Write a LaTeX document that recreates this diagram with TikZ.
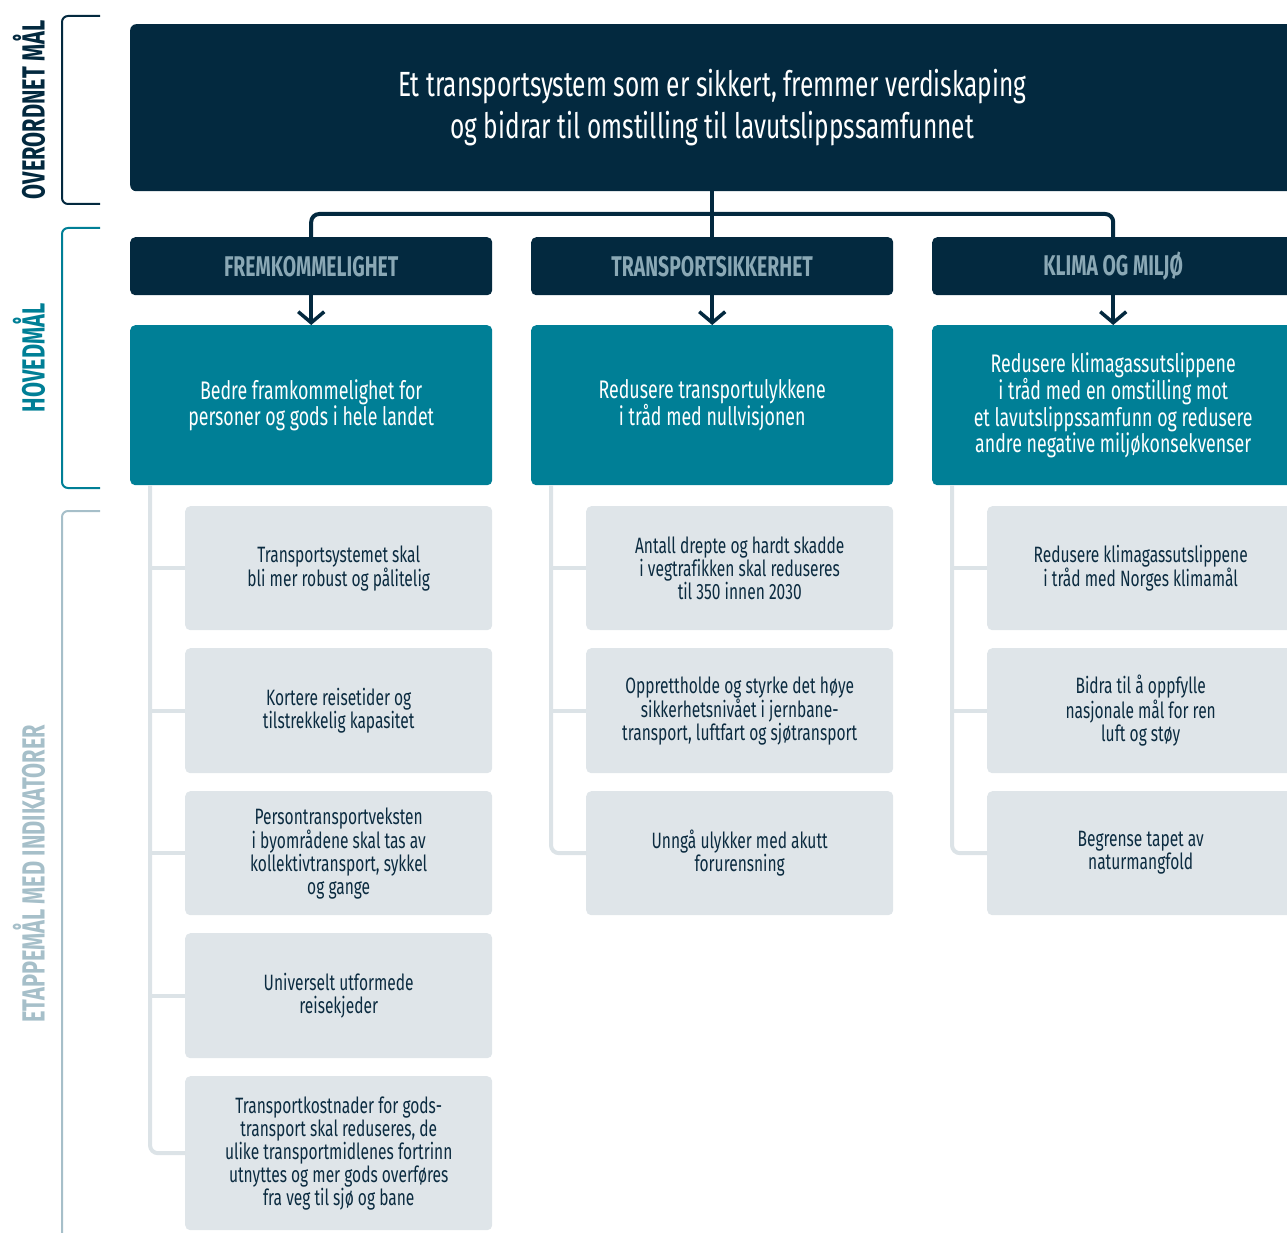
\documentclass[tikz,border=0pt]{standalone}
\usepackage{fontspec}
\setmainfont{Fira Sans}[FakeStretch=0.7,Ligatures=NoCommon]
\newfontfamily\boldf{Fira Sans Bold}[FakeStretch=0.68]
\usetikzlibrary{arrows.meta,calc}
\definecolor{navy}{HTML}{03293F}
\definecolor{teal}{HTML}{007F96}
\definecolor{hdrtxt}{HTML}{8AA8B5}
\definecolor{graybox}{HTML}{DFE5E9}
\definecolor{treeline}{HTML}{DCE3E7}
\definecolor{lightlab}{HTML}{A6BFC9}
\definecolor{darktxt}{HTML}{0B2B40}
\tikzset{
  topbox/.style={fill=navy, rounded corners=6pt, anchor=north west, inner sep=0pt,
     minimum width=1164pt, minimum height=167pt, text=white, align=center,
     font=\fontsize{35}{42}\selectfont},
  hdr/.style={fill=navy, rounded corners=5pt, anchor=north west, inner sep=0pt,
     minimum width=362pt, minimum height=58pt, text=hdrtxt,
     font=\boldf\fontsize{28.5}{30}\selectfont},
  tealbox/.style={fill=teal, rounded corners=5pt, anchor=north west, inner sep=0pt,
     minimum width=362pt, minimum height=160pt, text=white, align=center,
     font=\fontsize{25.4}{26.5}\selectfont},
  gbox/.style={fill=graybox, rounded corners=5pt, anchor=north west, inner sep=0pt,
     minimum width=307pt, minimum height=124pt, text=darktxt, align=center,
     font=\fontsize{22.2}{23}\selectfont},
  conn/.style={draw=navy, line width=4pt, rounded corners=8pt},
  arr/.style={draw=navy, line width=4pt, -{Straight Barb[length=11pt,width=26pt,line width=3.5pt]}},
  tree/.style={draw=treeline, line width=4pt, rounded corners=8pt},
  bracket/.style={line width=2pt, rounded corners=6pt},
  sidelab/.style={rotate=90, font=\boldf\fontsize{32}{34}\selectfont, inner sep=0pt},
}
\begin{document}
\begin{tikzpicture}[x=1pt,y=-1pt]
\useasboundingbox (0,0) rectangle (1287,1233);
\clip (0,0) rectangle (1287,1233);
% side labels and brackets
\node[sidelab, text=navy] (labA) at (29,110) {OVERORDNET MÅL};
\node[sidelab, text=teal] (labB) at (29,358) {HOVEDMÅL};
\node[sidelab, text=lightlab] (labC) at (29,874) {ETAPPEMÅL MED INDIKATORER};
\coordinate (bA1) at (100,16); \coordinate (bA2) at (100,204);
\coordinate (bB1) at (100,228); \coordinate (bB2) at (100,488);
\coordinate (bC1) at (100,511); \coordinate (bC2) at (62,1250);
\draw[bracket, navy] (bA1) -- (62,16) -- (62,204) -- (bA2);
\draw[bracket, teal] (bB1) -- (62,228) -- (62,488) -- (bB2);
\draw[bracket, lightlab] (bC1) -- (62,511) -- (bC2);
% top
\node[topbox] (top) at (130,24) {\raisebox{2pt}{\parbox{1100pt}{\centering Et transportsystem som er sikkert, fremmer verdiskaping\\og bidrar til omstilling til lavutslippssamfunnet}}};
% headers
\node[hdr] (h1) at (130,237) {FREMKOMMELIGHET};
\node[hdr] (h2) at (531,237) {TRANSPORTSIKKERHET};
\node[hdr] (h3) at (932,237) {KLIMA OG MILJØ};
\coordinate (bus) at (712,214);
\draw[conn] (h1.north) |- (bus) -| (h3.north);
\draw[conn] (top.south -| h2.north) -- (h2.north);
% teal
\node[tealbox] (t1) at (130,325) {Bedre framkommelighet for\\personer og gods i hele landet};
\node[tealbox] (t2) at (531,325) {Redusere transportulykkene\\i tråd med nullvisjonen};
\node[tealbox] (t3) at (932,325) {Redusere klimagassutslippene\\i tråd med en omstilling mot\\et lavutslippssamfunn og redusere\\andre negative miljøkonsekvenser};
\draw[arr] (h1.south) -- (t1.north);
\draw[arr] (h2.south) -- (t2.north);
\draw[arr] (h3.south) -- (t3.north);
% gray boxes col 1
\node[gbox] (g11) at (185,506) {Transportsystemet skal\\bli mer robust og pålitelig};
\node[gbox, minimum height=125pt] (g12) at (185,648) {Kortere reisetider og\\tilstrekkelig kapasitet};
\node[gbox] (g13) at (185,791) {Persontransportveksten\\i byområdene skal tas av\\kollektivtransport, sykkel\\og gange};
\node[gbox, minimum height=125pt] (g14) at (185,933) {Universelt utformede\\reisekjeder};
\node[gbox, minimum height=154pt] (g15) at (185,1076) {Transportkostnader for gods-\\transport skal reduseres, de\\ulike transportmidlenes fortrinn\\utnyttes og mer gods overføres\\fra veg til sjø og bane};
% col 2
\node[gbox] (g21) at (586,506) {Antall drepte og hardt skadde\\i vegtrafikken skal reduseres\\til 350 innen 2030};
\node[gbox, minimum height=125pt] (g22) at (586,648) {Opprettholde og styrke det høye\\sikkerhetsnivået i jernbane-\\transport, luftfart og sjøtransport};
\node[gbox] (g23) at (586,791) {Unngå ulykker med akutt\\forurensning};
% col 3
\node[gbox] (g31) at (987,506) {Redusere klimagassutslippene\\i tråd med Norges klimamål};
\node[gbox, minimum height=125pt] (g32) at (987,648) {Bidra til å oppfylle\\nasjonale mål for ren\\luft og støy};
\node[gbox] (g33) at (987,791) {Begrense tapet av\\naturmangfold};
% tree lines
\coordinate (r1) at ([xshift=20pt]t1.south west);
\coordinate (r2) at ([xshift=20pt]t2.south west);
\coordinate (r3) at ([xshift=20pt]t3.south west);
\draw[tree] (r1) |- (g15.west);
\foreach \g in {g11,g12,g13,g14} \draw[tree] (r1 |- \g.west) -- (\g.west);
\draw[tree] (r2) |- (g23.west);
\foreach \g in {g21,g22} \draw[tree] (r2 |- \g.west) -- (\g.west);
\draw[tree] (r3) |- (g33.west);
\foreach \g in {g31,g32} \draw[tree] (r3 |- \g.west) -- (\g.west);
\end{tikzpicture}
\end{document}
